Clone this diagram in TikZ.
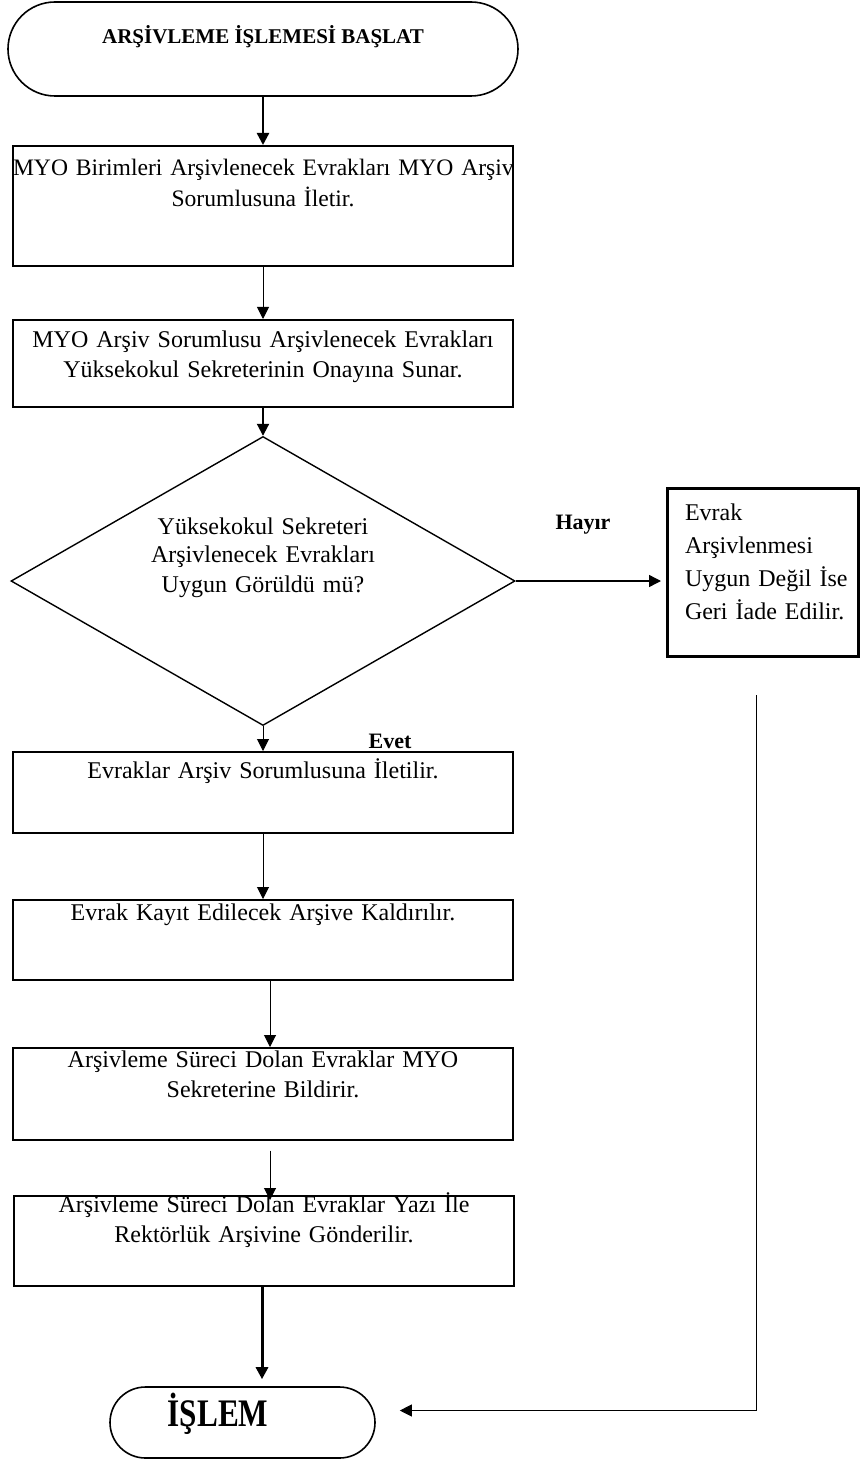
\documentclass[tikz,border=0pt]{standalone}
\usepackage{fontspec}
\setmainfont{Liberation Serif}
\usetikzlibrary{shapes.geometric,shapes.misc,arrows.meta}

\tikzset{
  stepbox/.style 2 args={draw, line width=0.8pt, anchor=north, inner sep=0pt,
    text width=250pt, align=center, text height=#1, text depth=#2,
    font=\fontsize{12}{15}\selectfont},
  terminal/.style={draw, line width=0.8pt, rounded rectangle, inner sep=0pt},
  decision/.style={draw, line width=0.7pt, diamond, shape aspect=1.74, inner sep=0pt,
    text width=150pt, align=center, minimum width=252pt, minimum height=144.5pt,
    text height=0pt, text depth=47pt, font=\fontsize{12}{14}\selectfont},
  answer/.style={font=\fontsize{11}{13}\selectfont\bfseries},
  arr/.style={-{Triangle[length=6pt,width=6pt]}, line width=0.5pt},
}

\begin{document}
\begin{tikzpicture}[x=0.5pt,y=-0.5pt]
  \useasboundingbox (0,0) rectangle (859,1460);
  % start / end
  \node (start) at (263,49) [terminal, minimum width=255pt, minimum height=47pt,
    text height=0pt, text depth=5pt, font=\fontsize{10.5}{12}\selectfont\bfseries]
    {ARŞİVLEME İŞLEMESİ BAŞLAT};
  \node (islem) at (242.5,1422.5) [terminal, minimum width=132.5pt, minimum height=35.5pt,
    text height=3.5pt, text depth=0pt]
    {\scalebox{0.8}[1]{\fontsize{19.5}{20}\selectfont\bfseries İŞLEM}\hspace*{24.5pt}};
  % main column
  \node (box1) at (263,145) [stepbox={15pt}{45pt}, font=\fontsize{11.8}{15.5}\selectfont]
    {\mbox{MYO Birimleri Arşivlenecek Evrakları MYO Arşiv}\\ Sorumlusuna İletir.};
  \node (box2) at (263,319) [stepbox={14pt}{29.5pt}]
    {MYO Arşiv Sorumlusu Arşivlenecek Evrakları\\ Yüksekokul Sekreterinin Onayına Sunar.};
  \node (karar) at (263,581) [decision]
    {Yüksekokul Sekreteri\\ Arşivlenecek Evrakları\\[1pt] Uygun Görüldü mü?};
  \node (box3) at (263,751) [stepbox={13.5pt}{27pt}]
    {Evraklar Arşiv Sorumlusuna İletilir.};
  \node (box4) at (263,899) [stepbox={10.5pt}{29.5pt}]
    {Evrak Kayıt Edilecek Arşive Kaldırılır.};
  \node (box5) at (263,1047) [stepbox={10pt}{36pt}]
    {Arşivleme Süreci Dolan Evraklar MYO\\ Sekreterine Bildirir.};
  \node (box6) at (264,1195) [stepbox={8.5pt}{36.5pt}]
    {Arşivleme Süreci Dolan Evraklar Yazı İle\\ Rektörlük Arşivine Gönderilir.};
  % rejected branch
  \node (iade) at (666,487) [draw, line width=1.5pt, anchor=north west, inner xsep=8.75pt,
    inner ysep=0pt, text width=78pt, align=left, text height=16pt, text depth=68pt,
    font=\fontsize{12}{16.5}\selectfont]
    {Evrak\\ Arşivlenmesi\\ Uygun~Değil~İse\\ Geri~İade~Edilir.};
  \node (hayir) at (583,525) [answer] {Hayır};
  \node (evet) at (390,741) [answer] {Evet};

  \draw[arr, line width=1.2pt] (start.south) -- (box1.north);
  \draw[arr] (box1.south) -- (box2.north);
  \draw[arr, line width=1pt] (box2.south) -- (karar.north);
  \draw[arr] (karar.south) -- (box3.north);
  \draw[arr] (box3.south) -- (box4.north);
  \draw[arr] ([xshift=3.5pt]box4.south) -- ([xshift=3.5pt]box5.north);
  \draw[arr] ([xshift=3.5pt,yshift=-5pt]box5.south) -- ([xshift=3pt,yshift=-2.5pt]box6.north);
  \draw[arr, line width=1.5pt] ([xshift=-1pt]box6.south) -- ([xshift=-1pt,yshift=3.5pt]box6.south |- islem.north);
  \draw[arr, line width=0.7pt] (karar.east) -- ([xshift=-2.5pt]karar.east -| iade.west);
  \draw[arr] ([xshift=-3.25pt,yshift=-18.5pt]iade.south) |- ([xshift=12pt,yshift=6pt]islem.east);
\end{tikzpicture}
\end{document}
